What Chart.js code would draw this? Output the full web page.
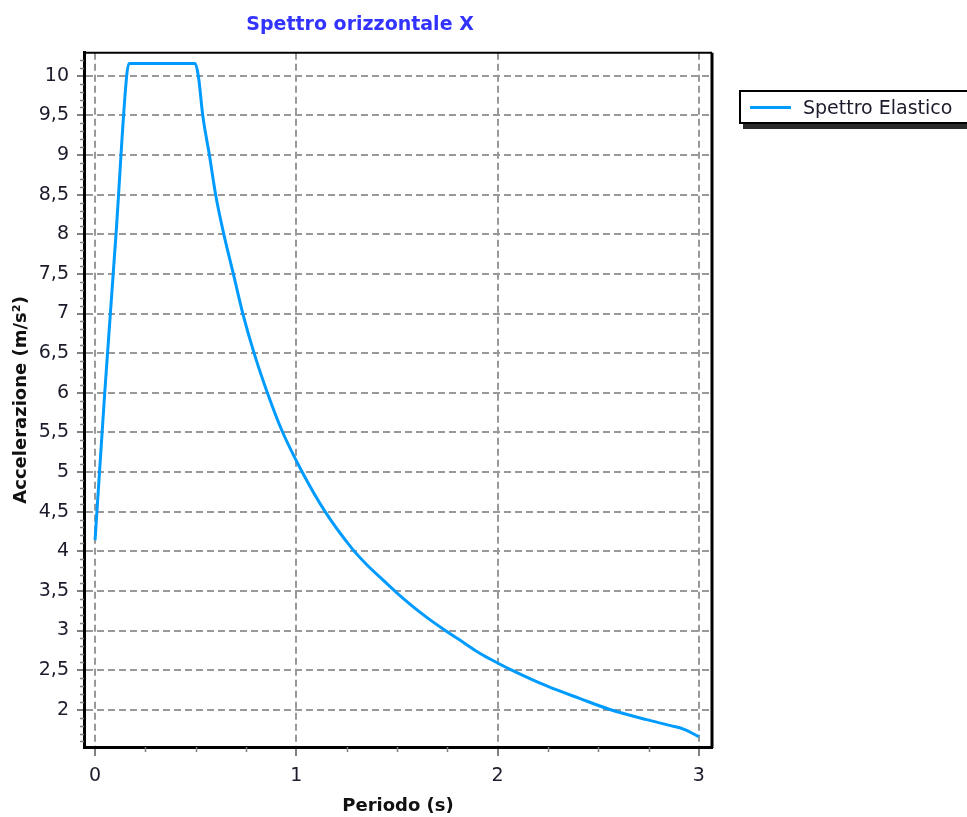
<!DOCTYPE html>
<html lang="it">
<head>
<meta charset="utf-8">
<title>Spettro orizzontale X</title>
<script src="https://cdn.jsdelivr.net/npm/chart.js@4.4.1/dist/chart.umd.min.js"></script>
<style>
  html, body { margin: 0; padding: 0; background: #fff; overflow: hidden; }
  #contenitore { position: relative; width: 967px; height: 817px; overflow: hidden; }
  #legenda {
    position: absolute; left: 739px; top: 90px; width: 260px; height: 30px;
    border: 2px solid #000; box-shadow: 4px 5px 0 #2a2a2a; background: #fff;
    font: 19px "DejaVu Sans", sans-serif; color: #1b1b2b;
  }
  #legenda .linea { position: absolute; left: 9px; top: 14px; width: 41px; height: 3px; background: #009bff; }
  #legenda .testo { position: absolute; left: 62px; top: 3px; line-height: 24px; white-space: nowrap; }
</style>
</head>
<body>
<div id="contenitore">
  <canvas id="grafico" width="967" height="817"></canvas>
  <div id="legenda"><span class="linea"></span><span class="testo">Spettro Elastico</span></div>
</div>
<script>
// Dati: periodo (s) e accelerazione (m/s²)
const periodi = [0, 0.048, 0.104, 0.157, 0.169, 0.497, 0.513, 0.535, 0.568, 0.599, 0.637, 0.687,
  0.734, 0.79, 0.856, 0.927, 1.025, 1.143, 1.275, 1.35, 1.43, 1.502, 1.62, 1.74, 1.83, 1.913,
  2.0, 2.07, 2.244, 2.41, 2.55, 2.74, 2.86, 2.93, 3.0];
const accelerazioni = [4.14, 6.0, 8.0, 10.0, 10.156, 10.156, 10.0, 9.5, 9.0, 8.5, 8.03, 7.5,
  7.0, 6.5, 6.0, 5.53, 5.02, 4.5, 4.04, 3.83, 3.64, 3.47, 3.22, 3.0, 2.85, 2.71,
  2.59, 2.5, 2.3, 2.14, 2.01, 1.875, 1.8, 1.75, 1.66];

// Etichette degli assi
const tickX = [0, 1, 2, 3];
const tickY = [2, 2.5, 3, 3.5, 4, 4.5, 5, 5.5, 6, 6.5, 7, 7.5, 8, 8.5, 9, 9.5, 10];

const BLU = "#009bff";
const GRIGIO = "#999999";
const TESTO = "#1b1b2b";
const FONT = "'DejaVu Sans', sans-serif";

// tacche secondarie + bordo superiore/destro del riquadro
const tacchette = {
  id: "tacchette",
  afterDraw(chart) {
    const { ctx, chartArea, scales } = chart;
    const x = scales.x, y = scales.y;
    ctx.save();
    ctx.strokeStyle = "#808080";
    ctx.lineWidth = 1.5;
    ctx.beginPath();
    for (let i = 0; i <= 12; i++) {
      if (i % 4 === 0) continue;
      const px = Math.round(x.getPixelForValue(i * 0.25)) + 0.5;
      ctx.moveTo(px, chartArea.bottom);
      ctx.lineTo(px, chartArea.bottom + 5);
    }
    for (let i = 16; i <= 102; i++) {
      if (i % 5 === 0) continue;
      const py = Math.round(y.getPixelForValue(i / 10)) + 0.5;
      ctx.moveTo(chartArea.left - 4, py);
      ctx.lineTo(chartArea.left, py);
    }
    ctx.stroke();

    ctx.strokeStyle = "#000";
    ctx.lineWidth = 2;
    ctx.beginPath();
    ctx.moveTo(chartArea.left, chartArea.top);
    ctx.lineTo(chartArea.right, chartArea.top);
    ctx.stroke();
    ctx.lineWidth = 3;
    ctx.beginPath();
    ctx.moveTo(chartArea.right, chartArea.top);
    ctx.lineTo(chartArea.right, chartArea.bottom + 1);
    ctx.stroke();
    ctx.restore();
  },
};

const punti = periodi.map((t, i) => ({ x: t, y: accelerazioni[i] }));

new Chart(document.getElementById("grafico").getContext("2d"), {
  type: "line",
  data: {
    datasets: [
      {
        label: "Spettro Elastico",
        data: punti,
        borderColor: BLU,
        backgroundColor: BLU,
        borderWidth: 3,
        pointRadius: 0,
        cubicInterpolationMode: "monotone",
        fill: false,
      },
    ],
  },
  options: {
    responsive: false,
    animation: false,
    devicePixelRatio: 1,
    layout: { padding: { left: 8, right: 255, top: 0, bottom: 0 } },
    plugins: {
      legend: { display: false },
      tooltip: { enabled: false },
      title: {
        display: true,
        text: "Spettro orizzontale X",
        color: "#3333ff",
        font: { family: FONT, size: 19, weight: "bold" },
        padding: { top: 14, bottom: 16 },
      },
    },
    scales: {
      x: {
        type: "linear",
        min: -0.055,
        max: 3.065,
        afterBuildTicks: (scale) => {
          scale.ticks = tickX.map((v) => ({ value: v }));
        },
        afterFit: (scale) => {
          scale.height = 70;
        },
        ticks: {
          color: TESTO,
          font: { family: FONT, size: 19 },
          padding: 9,
          maxRotation: 0,
          callback: (v) => String(v),
        },
        grid: {
          color: GRIGIO,
          lineWidth: 2,
          tickColor: "#808080",
          tickLength: 9,
          tickWidth: 2,
        },
        border: { color: "#000", width: 3, dash: [7, 4] },
        title: {
          display: true,
          text: "Periodo (s)",
          color: "#111",
          font: { family: FONT, size: 18, weight: "bold" },
          padding: { top: 0, bottom: 0 },
        },
      },
      y: {
        type: "linear",
        min: 1.53,
        max: 10.29,
        afterBuildTicks: (scale) => {
          scale.ticks = tickY.map((v) => ({ value: v }));
        },
        afterFit: (scale) => {
          scale.width = 76;
        },
        ticks: {
          color: TESTO,
          font: { family: FONT, size: 19 },
          padding: 8,
          callback: (v) => String(v).replace(".", ","),
        },
        grid: {
          color: GRIGIO,
          lineWidth: 2,
          tickColor: "#808080",
          tickLength: 7,
          tickWidth: 2,
        },
        border: { color: "#000", width: 3, dash: [7, 4] },
        title: {
          display: true,
          text: "Accelerazione (m/s²)",
          color: "#111",
          font: { family: FONT, size: 18, weight: "bold" },
          padding: { top: 3, bottom: 0 },
        },
      },
    },
  },
  plugins: [tacchette],
});
</script>
</body>
</html>
